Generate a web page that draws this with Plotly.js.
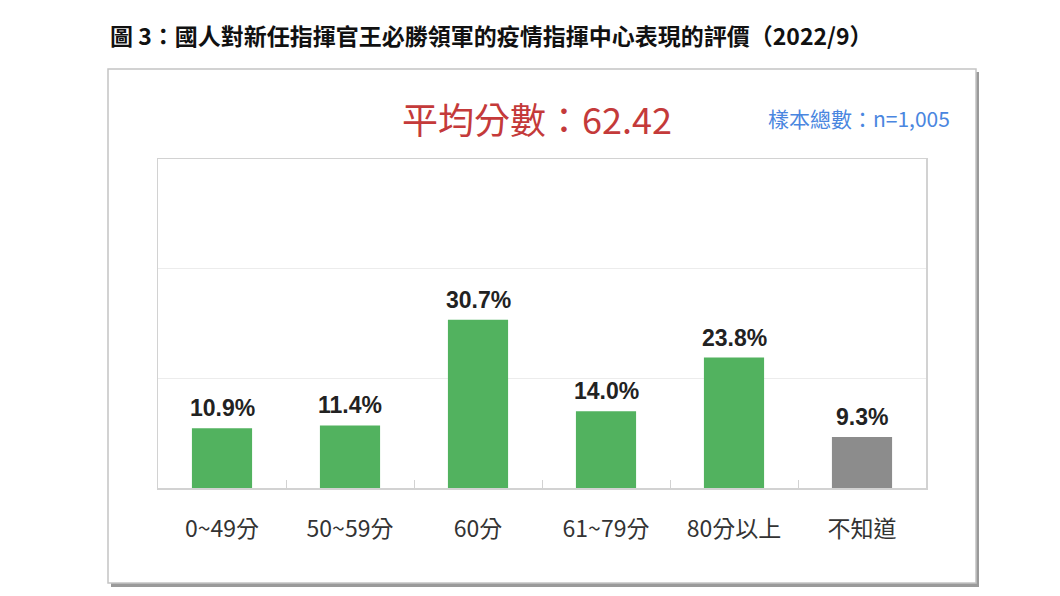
<!DOCTYPE html>
<html>
<head>
<meta charset="utf-8">
<script src="https://cdn.plot.ly/plotly-3.0.1.min.js"></script>
<style>
  body { margin: 0; background: #fff; }
  #chart { width: 1060px; height: 596px; }
</style>
</head>
<body>
<div id="chart"></div>
<script>
var categories = ['0~49分', '50~59分', '60分', '61~79分', '80分以上', '不知道'];
var shares = [10.9, 11.4, 30.7, 14.0, 23.8, 9.3];
var barColors = ['#52b25f', '#52b25f', '#52b25f', '#52b25f', '#52b25f', '#8c8c8c'];
var yTicks = [0, 20, 40, 60];

var cjk = '"Noto Sans CJK TC", "Noto Sans", sans-serif';

var data = [{
  x: categories,
  y: shares,
  type: 'bar',
  width: 0.47,
  marker: { color: barColors },
  hoverinfo: 'skip'
}];

// plot area in pixels: x 158..926, y 159..488
function px(x) { return (x - 158) / 768; }
function py(y) { return (488 - y) / 329; }

var layout = {
  width: 1060,
  height: 596,
  showlegend: false,
  paper_bgcolor: '#ffffff',
  plot_bgcolor: 'rgba(0,0,0,0)',
  margin: { l: 158, r: 134, t: 159, b: 108, autoexpand: false },
  xaxis: {
    type: 'category',
    showline: true,
    mirror: true,
    linecolor: '#d2d2d2',
    linewidth: 1.5,
    showgrid: false,
    ticks: 'inside',
    tickson: 'boundaries',
    ticklen: 8,
    tickcolor: '#d2d2d2',
    ticklabelstandoff: 20,
    tickfont: { family: cjk, size: 23, color: '#333333' },
    fixedrange: true
  },
  yaxis: {
    range: [0, 60],
    tickvals: yTicks,
    showticklabels: false,
    showgrid: true,
    gridcolor: '#ececec',
    zeroline: false,
    showline: true,
    mirror: true,
    linecolor: '#d2d2d2',
    linewidth: 1.5,
    ticks: '',
    fixedrange: true
  },
  shapes: [
    {
      type: 'rect', xref: 'paper', yref: 'paper', layer: 'below',
      x0: px(111), x1: px(979), y0: py(587), y1: py(72),
      fillcolor: '#9a9a9a', line: { width: 0 }
    },
    {
      type: 'rect', xref: 'paper', yref: 'paper', layer: 'below',
      x0: px(108), x1: px(976), y0: py(583), y1: py(69),
      fillcolor: '#ffffff', line: { color: '#c4c4c4', width: 1.5 }
    }
  ],
  annotations: [
    {
      xref: 'paper', yref: 'paper',
      x: px(108), y: py(35),
      xanchor: 'left', yanchor: 'middle',
      text: '<b>圖 3：國人對新任指揮官王必勝領軍的疫情指揮中心表現的評價（2022/9）</b>',
      showarrow: false,
      font: { family: cjk, size: 23, color: '#111111' }
    },
    {
      xref: 'paper', yref: 'paper',
      x: px(537), y: py(118),
      xanchor: 'center', yanchor: 'middle',
      text: '平均分數：62.42',
      showarrow: false,
      font: { family: cjk, size: 36, color: '#c43a3a' }
    },
    {
      xref: 'paper', yref: 'paper',
      x: px(952), y: py(118),
      xanchor: 'right', yanchor: 'middle',
      text: '樣本總數：n=1,005',
      showarrow: false,
      font: { family: cjk, size: 21, color: '#4a86e0' }
    }
  ]
};

for (var i = 0; i < categories.length; i++) {
  layout.annotations.push({
    x: categories[i],
    y: shares[i],
    xref: 'x',
    yref: 'y',
    xanchor: 'center',
    yanchor: 'bottom',
    yshift: 5,
    text: '<b>' + shares[i].toFixed(1) + '%</b>',
    showarrow: false,
    font: { family: 'Liberation Sans, Arial, sans-serif', size: 23, color: '#222222' }
  });
}

Plotly.newPlot('chart', data, layout, { displayModeBar: false, staticPlot: true });
</script>
</body>
</html>
